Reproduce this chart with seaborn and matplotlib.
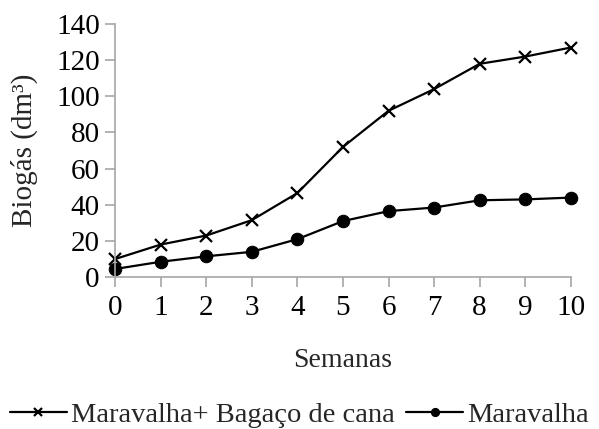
import matplotlib
matplotlib.use('Agg')
import matplotlib.pyplot as plt
import seaborn as sns
import pandas as pd

# values
semanas = [0, 1, 2, 3, 4, 5, 6, 7, 8, 9, 10]
mix = [10, 18, 23, 31.5, 46.5, 72, 92, 104, 118, 122, 127]
maravalha = [4.5, 8.5, 11.5, 14, 21, 31, 36.5, 38.5, 42.5, 43, 44]
yticks = [0, 20, 40, 60, 80, 100, 120, 140]

sns.set_theme(style='white')
plt.rcParams['font.family'] = ['Liberation Serif', 'DejaVu Serif']

df = pd.DataFrame({'semana': semanas, 'mix': mix, 'maravalha': maravalha})

fig = plt.figure(figsize=(5.99, 4.29), dpi=100)
ax = fig.add_axes([0.192, 0.354, 0.761, 0.590])

sns.lineplot(data=df, x='semana', y='mix', ax=ax, color='black', lw=1.6,
             marker='x', markersize=9, markeredgewidth=1.6, markeredgecolor='black',
             label='Maravalha+ Bagaço de cana')
sns.lineplot(data=df, x='semana', y='maravalha', ax=ax, color='black', lw=1.6,
             marker='o', markersize=9, markeredgecolor='black',
             label='Maravalha')

ax.set_xlim(0, 10)
ax.set_ylim(0, 140)
ax.set_xticks(semanas)
ax.set_yticks(yticks)
ax.set_xlabel('Semanas', fontsize=20)
ax.xaxis.set_label_coords(0.5, -0.28)
ax.set_ylabel('Biogás (dm³)', fontsize=21)
ax.yaxis.set_label_coords(-0.17, 0.5)
ax.tick_params(axis='both', labelsize=21, direction='out', length=7, width=1.2,
               color='#a6a6a6', labelcolor='black', bottom=True, left=True)
ax.tick_params(axis='x', pad=6)
ax.tick_params(axis='y', pad=4)
for s in ['top', 'right']:
    ax.spines[s].set_visible(False)
for s in ['left', 'bottom']:
    ax.spines[s].set_color('#a6a6a6')
    ax.spines[s].set_linewidth(1.2)
for line in ax.lines:
    line.set_clip_on(False)

ax.get_legend().remove()
h, l = ax.get_legend_handles_labels()
fig.legend(h, l, loc='lower center', bbox_to_anchor=(0.5, 0.0), ncol=2,
           frameon=False, fontsize=20.5, handlelength=2.0, handletextpad=0.15,
           columnspacing=0.4, markerscale=0.65, borderpad=0.05,
           borderaxespad=0)

fig.savefig('out.png', dpi=100)
